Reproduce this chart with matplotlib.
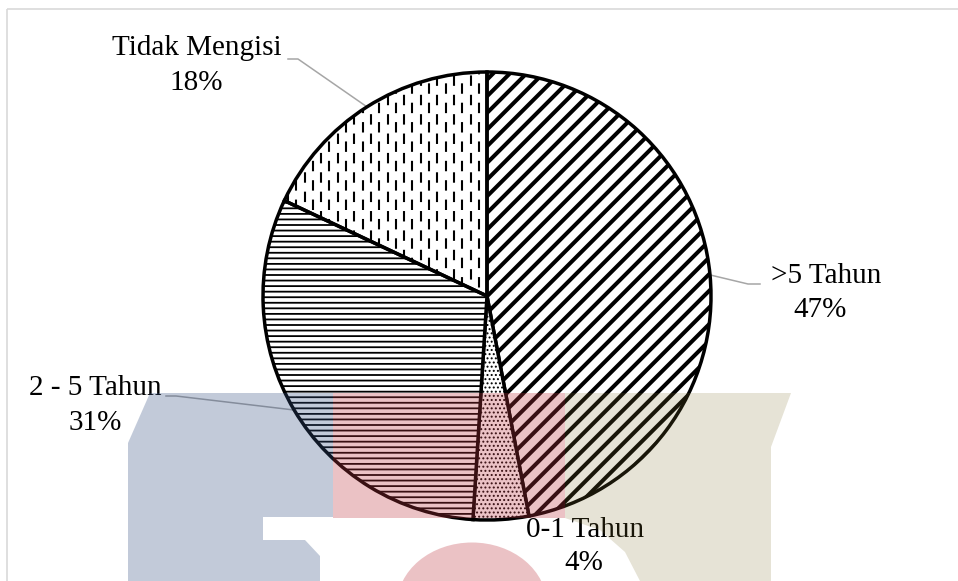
import numpy as np
import matplotlib.pyplot as plt
from matplotlib.patches import Polygon, Ellipse, Rectangle, Wedge

# data
kategori = ['>5 Tahun', '0-1 Tahun', '2 - 5 Tahun', 'Tidak Mengisi']
persen = [47, 4, 31, 18]
teks_persen = ['47%', '4%', '31%', '18%']

plt.rcParams['font.family'] = ['Liberation Serif', 'DejaVu Serif']

W, H = 958, 581
fig = plt.figure(figsize=(W / 100, H / 100), dpi=100)

# pusat dan jari-jari pie dalam piksel
cx, cy, R = 487, 296, 224


def px(x, y):
    # piksel gambar -> koordinat data pie
    return (x - cx) / R, (cy - y) / R


# bingkai abu-abu tipis
bg = fig.add_axes([0, 0, 1, 1], zorder=0)
bg.set_xlim(0, W)
bg.set_ylim(H, 0)
bg.axis('off')
bg.add_patch(Rectangle((7.5, 8.5), W, H, fill=False, edgecolor='#d9d9d9', lw=1.2))

ax = fig.add_axes([(cx - R) / W, (H - cy - R) / H, 2 * R / W, 2 * R / H], zorder=1)
ax.patch.set_alpha(0)
wedges, _ = ax.pie(persen, startangle=90, counterclock=False, radius=1,
                   wedgeprops=dict(facecolor='white', edgecolor='black', linewidth=2.5))
ax.set_xlim(-1, 1)
ax.set_ylim(-1, 1)
ax.set_aspect('equal')
ax.axis('off')

hatches = ['//', '....', '---', None]
hatch_lw = [2.9, 0.9, 1.3, 1.0]
for w, h, lw in zip(wedges, hatches, hatch_lw):
    w.set_zorder(1)
    if h:
        w.set_hatch(h)
        if hasattr(w, 'set_hatch_linewidth'):
            w.set_hatch_linewidth(lw)

# garis putus-putus vertikal untuk "Tidak Mengisi"
w_tm = wedges[3]
w_tm.set_facecolor('none')
ax.add_patch(Wedge((0, 0), 1, w_tm.theta1, w_tm.theta2,
                   facecolor='white', edgecolor='none', zorder=0.2))
xs = np.arange(-1, 1, 8.3 / R)
for i, x0 in enumerate(xs):
    off = 0 if i % 2 == 0 else 5.5
    ln, = ax.plot([x0, x0], [-1, 1], color='black', lw=1.5,
                  linestyle=(off, (5.0, 4.3)), solid_capstyle='butt', zorder=0.5)
    ln.set_clip_path(w_tm)

# label
fs = 21
label_pos = {
    '>5 Tahun': [(826, 283), (820, 317)],
    '0-1 Tahun': [(585, 537), (584, 570)],
    '2 - 5 Tahun': [(95, 395), (95, 430)],
    'Tidak Mengisi': [(197, 55), (196, 90)],
}
for k, p in zip(kategori, teks_persen):
    (x1, y1), (x2, y2) = label_pos[k]
    ax.text(*px(x1, y1), k, ha='center', va='baseline', fontsize=fs, clip_on=False)
    ax.text(*px(x2, y2), p, ha='center', va='baseline', fontsize=fs, clip_on=False)


# garis penunjuk
def tepi(w):
    t = np.deg2rad((w.theta1 + w.theta2) / 2)
    return np.cos(t), np.sin(t)


leader = {
    0: [(760, 284), (748, 284)],
    2: [(166, 396), (176, 396)],
    3: [(288, 59), (298, 59)],
}
for i, pts in leader.items():
    a = px(*pts[0])
    b = px(*pts[1])
    e = tepi(wedges[i])
    ax.plot([a[0], b[0], e[0]], [a[1], b[1], e[1]], color='#a6a6a6', lw=1.1,
            clip_on=False, zorder=0.8)

# watermark latar (transparan di atas grafik)
wm = fig.add_axes([0, 0, 1, 1], zorder=5)
wm.set_xlim(0, W)
wm.set_ylim(H, 0)
wm.axis('off')
wm.patch.set_alpha(0)
biru = (55 / 255, 82 / 255, 132 / 255)
merah = (192 / 255, 55 / 255, 65 / 255)
krem = (130 / 255, 115 / 255, 50 / 255)
wm.add_patch(Polygon([(128, 581), (128, 443), (150, 393), (333, 393), (333, 517),
                      (263, 517), (263, 540), (305, 540), (320, 556), (320, 581)],
                     closed=True, facecolor=biru, edgecolor='none', alpha=0.3))
wm.add_patch(Polygon([(333, 393), (565, 393), (565, 518), (333, 518)],
                     closed=True, facecolor=merah, edgecolor='none', alpha=0.3))
wm.add_patch(Ellipse((472, 605), 150, 125, facecolor=merah, edgecolor='none', alpha=0.3))
wm.add_patch(Polygon([(565, 393), (791, 393), (771, 447), (771, 581), (640, 581),
                      (625, 552), (600, 530), (565, 518)],
                     closed=True, facecolor=krem, edgecolor='none', alpha=0.2))

fig.savefig('out.png', dpi=100)
